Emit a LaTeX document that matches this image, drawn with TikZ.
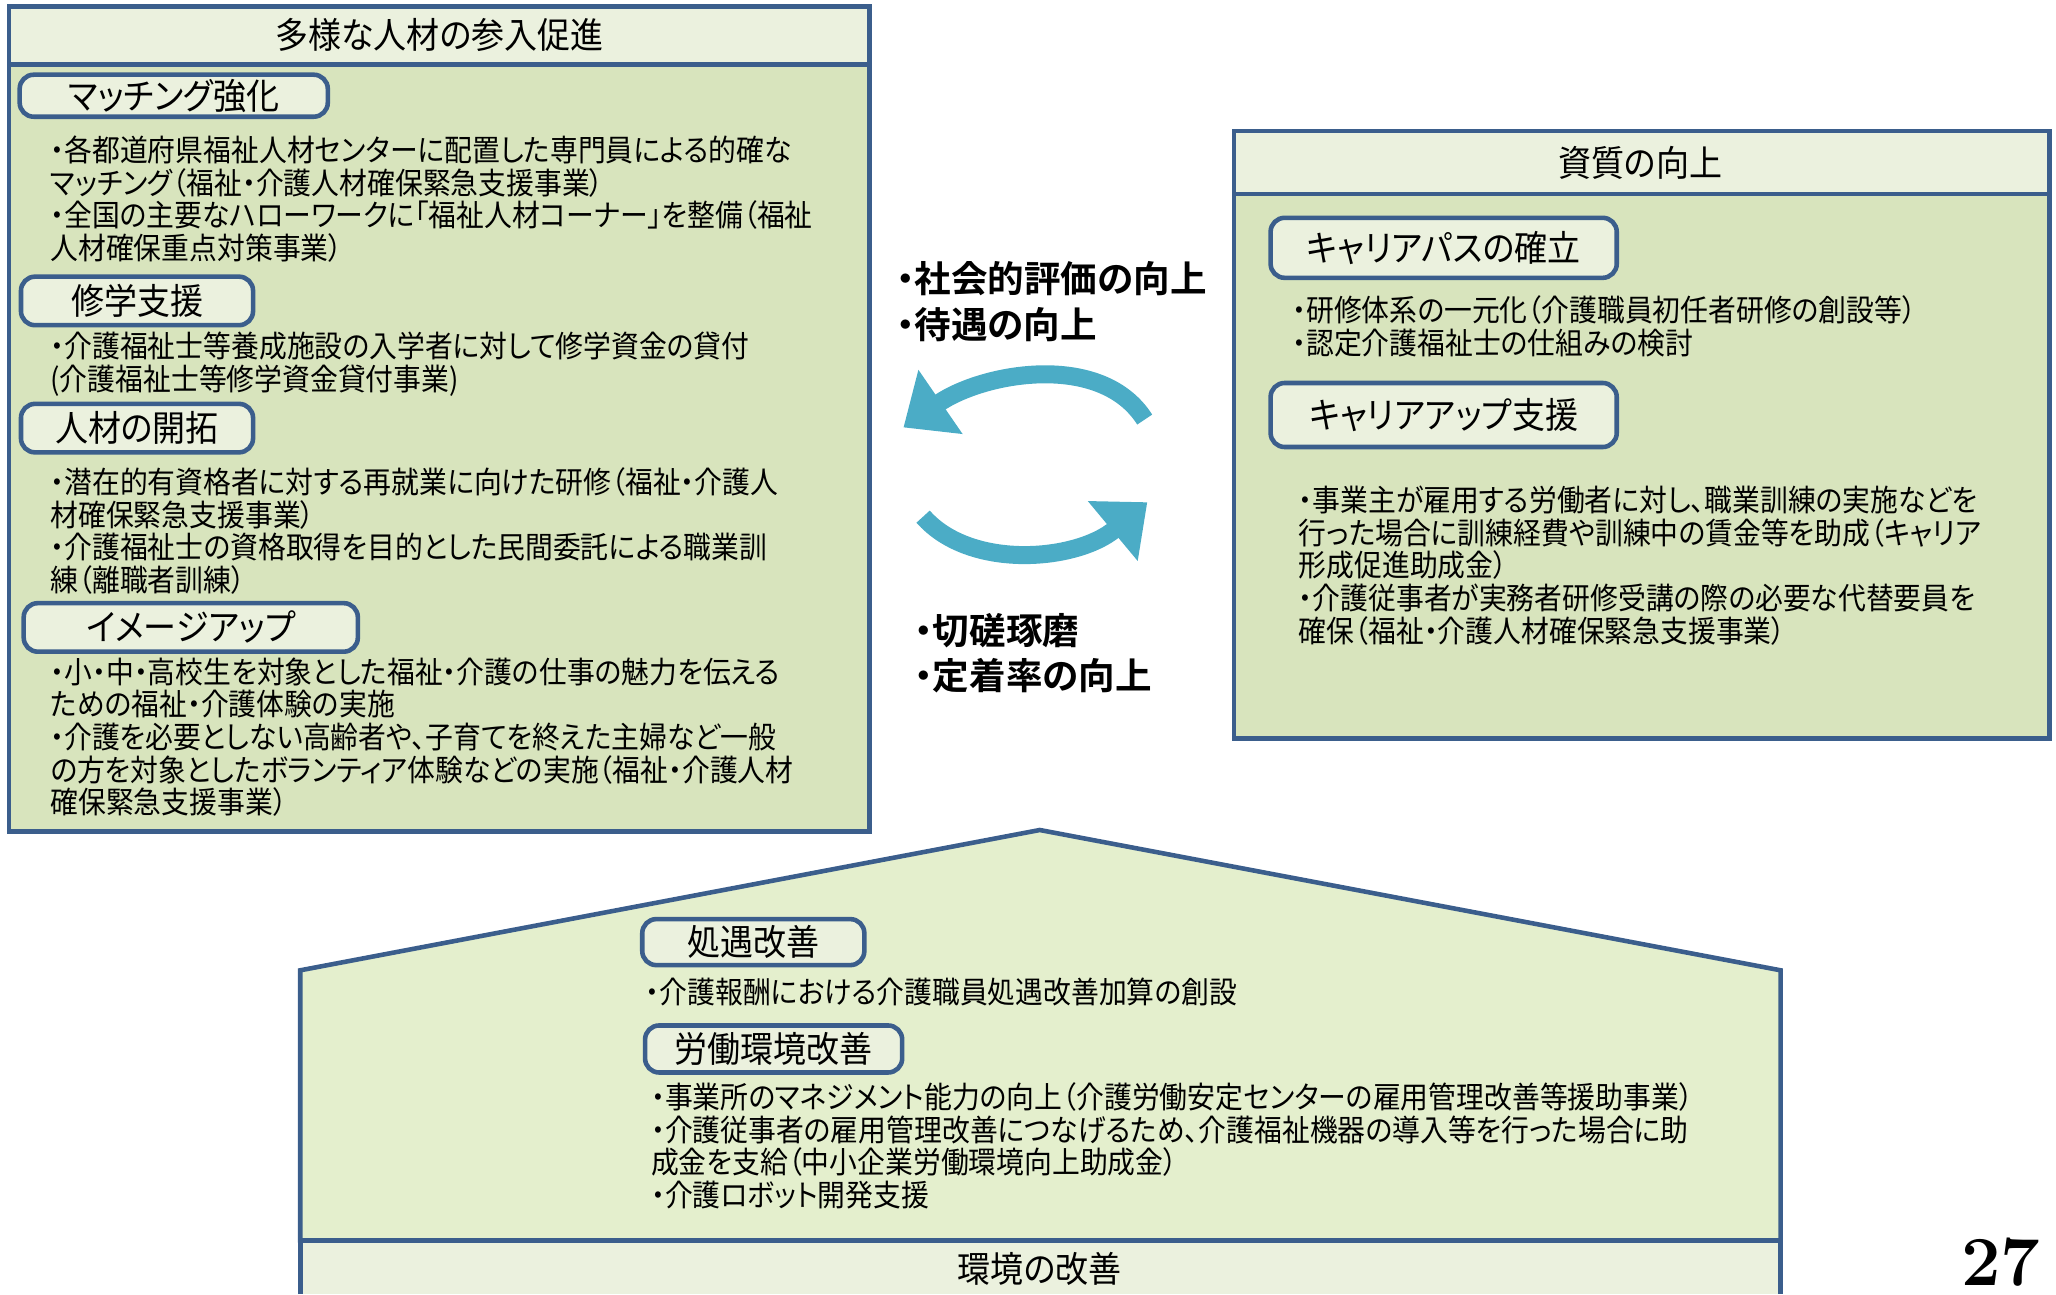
\documentclass[tikz,border=0pt]{standalone}
\usepackage{fontspec}
\usepackage{xcolor}
\usetikzlibrary{arrows.meta}
\newfontfamily\jpfont{Noto Sans CJK JP}[FakeStretch=0.92, RawFeature=+palt]
\newfontfamily\jpheavy{Noto Sans CJK JP Bold}[RawFeature=+palt]
\definecolor{frameblue}{HTML}{3B5E8C}
\definecolor{panelgreen}{HTML}{D8E4BD}
\definecolor{headgreen}{HTML}{EBF1DE}
\definecolor{housegreen}{HTML}{E4EFCD}
\definecolor{turncyan}{HTML}{4BACC6}

\tikzset{
 panel/.style={draw=frameblue, line width=1.3pt, fill=panelgreen},
 headbar/.style={draw=frameblue, line width=1.3pt, fill=headgreen},
 headtext/.style={inner sep=0pt, font=\jpfont\fontsize{10.2}{12}\selectfont},
 tagbox/.style={draw=frameblue, line width=1.3pt, fill=headgreen, rounded corners=4pt,
   inner sep=0pt, font=\jpfont\fontsize{10.2}{12}\selectfont},
 bodytext/.style={anchor=north west, align=left, inner sep=0pt, font=\jpfont\fontsize{8.6}{9.3}\selectfont},
 keytext/.style={anchor=north west, align=left, inner sep=0pt, font=\jpheavy\fontsize{10.4}{13}\selectfont},
 turnarrow/.style={draw=turncyan, line width=0.18cm, -{Triangle[width=0.75cm, length=0.45cm]}}
}

\begin{document}
\begin{tikzpicture}[x=0.013112cm, y=-0.013112cm]
\useasboundingbox (0,0) rectangle (1568,987);

\draw[panel] (7,49) rectangle (663,634);
\draw[headbar] (7,5) rectangle (663,49);
\node[headtext] (leftHead) at (335,27) {多様な人材の参入促進};

\draw[panel] (941,148) rectangle (1563,563);
\draw[headbar] (941,100) rectangle (1563,148);
\node[headtext] (rightHead) at (1251,124) {資質の向上};

\draw[draw=frameblue, line width=1.3pt, fill=housegreen] (229,946) -- (229,740) -- (793,633) -- (1358,740) -- (1358,946) -- cycle;
\fill[headgreen] (229,946) rectangle (1358,987);
\draw[draw=frameblue, line width=1.3pt] (229,987) -- (229,946) -- (1358,946) -- (1358,987);
\node[headtext] (footHead) at (793,968) {環境の改善};

\node[tagbox, minimum width=3.08cm, minimum height=0.42cm] (tagMatch) at (132.5,73) {マッチング強化};
\node[tagbox, minimum width=2.32cm, minimum height=0.485cm] (tagStudy) at (104.5,229.5) {修学支援};
\node[tagbox, minimum width=2.32cm, minimum height=0.485cm] (tagDevelop) at (104.5,326.5) {人材の開拓};
\node[tagbox, minimum width=3.34cm, minimum height=0.485cm] (tagImage) at (145.5,478.5) {イメージアップ};
\node[tagbox, minimum width=3.46cm, minimum height=0.60cm] (tagPath) at (1101,189) {キャリアパスの確立};
\node[tagbox, minimum width=3.46cm, minimum height=0.64cm] (tagUp) at (1101,316.5) {キャリアアップ支援};
\node[tagbox, minimum width=2.22cm, minimum height=0.46cm] (tagTreat) at (574.5,718.5) {処遇改善};
\node[tagbox, minimum width=2.57cm, minimum height=0.47cm] (tagLabor) at (590,800) {労働環境改善};

\node[bodytext] (txtMatch) at (38,103) {・各都道府県福祉人材センターに配置した専門員による的確な\\マッチング（福祉・介護人材確保緊急支援事業）\\・全国の主要なハローワークに「福祉人材コーナー」を整備（福祉\\人材確保重点対策事業）};
\node[bodytext] (txtStudy) at (38,253) {・介護福祉士等養成施設の入学者に対して修学資金の貸付\\(介護福祉士等修学資金貸付事業)};
\node[bodytext] (txtDevelop) at (38,356) {・潜在的有資格者に対する再就業に向けた研修（福祉・介護人\\材確保緊急支援事業）\\・介護福祉士の資格取得を目的とした民間委託による職業訓\\練（離職者訓練）};
\node[bodytext] (txtImage) at (38,501) {・小・中・高校生を対象とした福祉・介護の仕事の魅力を伝える\\ための福祉・介護体験の実施\\・介護を必要としない高齢者や、子育てを終えた主婦など一般\\の方を対象としたボランティア体験などの実施（福祉・介護人材\\確保緊急支援事業）};
\node[bodytext] (txtPath) at (985,225) {・研修体系の一元化（介護職員初任者研修の創設等）\\・認定介護福祉士の仕組みの検討};
\node[bodytext] (txtUp) at (990,370) {・事業主が雇用する労働者に対し、職業訓練の実施などを\\行った場合に訓練経費や訓練中の賃金等を助成（キャリア\\形成促進助成金）\\・介護従事者が実務者研修受講の際の必要な代替要員を\\確保（福祉・介護人材確保緊急支援事業）};
\node[bodytext] (txtTreat) at (492,745) {・介護報酬における介護職員処遇改善加算の創設};
\node[bodytext] (txtLabor) at (496,825) {・事業所のマネジメント能力の向上（介護労働安定センターの雇用管理改善等援助事業）\\・介護従事者の雇用管理改善につなげるため、介護福祉機器の導入等を行った場合に助\\成金を支給（中小企業労働環境向上助成金）\\・介護ロボット開発支援};

\node[keytext] (keyUpper) at (683,199) {・社会的評価の向上\\・待遇の向上};
\node[keytext] (keyLower) at (697,467) {・切磋琢磨\\・定着率の向上};

\coordinate (upTail) at (873,320);
\coordinate (upTip) at (689,326);
\coordinate (lowTail) at (704,394);
\coordinate (lowTip) at (875,383);
\draw[turnarrow] (upTail) .. controls (840,268) and (750,284) .. (upTip);
\draw[turnarrow] (lowTail) .. controls (740,435) and (821,428) .. (lowTip);

\node[font=\fontsize{20}{20}\selectfont\bfseries, inner sep=0pt, anchor=base] (pageNo) at (1526,980) {27};
\end{tikzpicture}
\end{document}
